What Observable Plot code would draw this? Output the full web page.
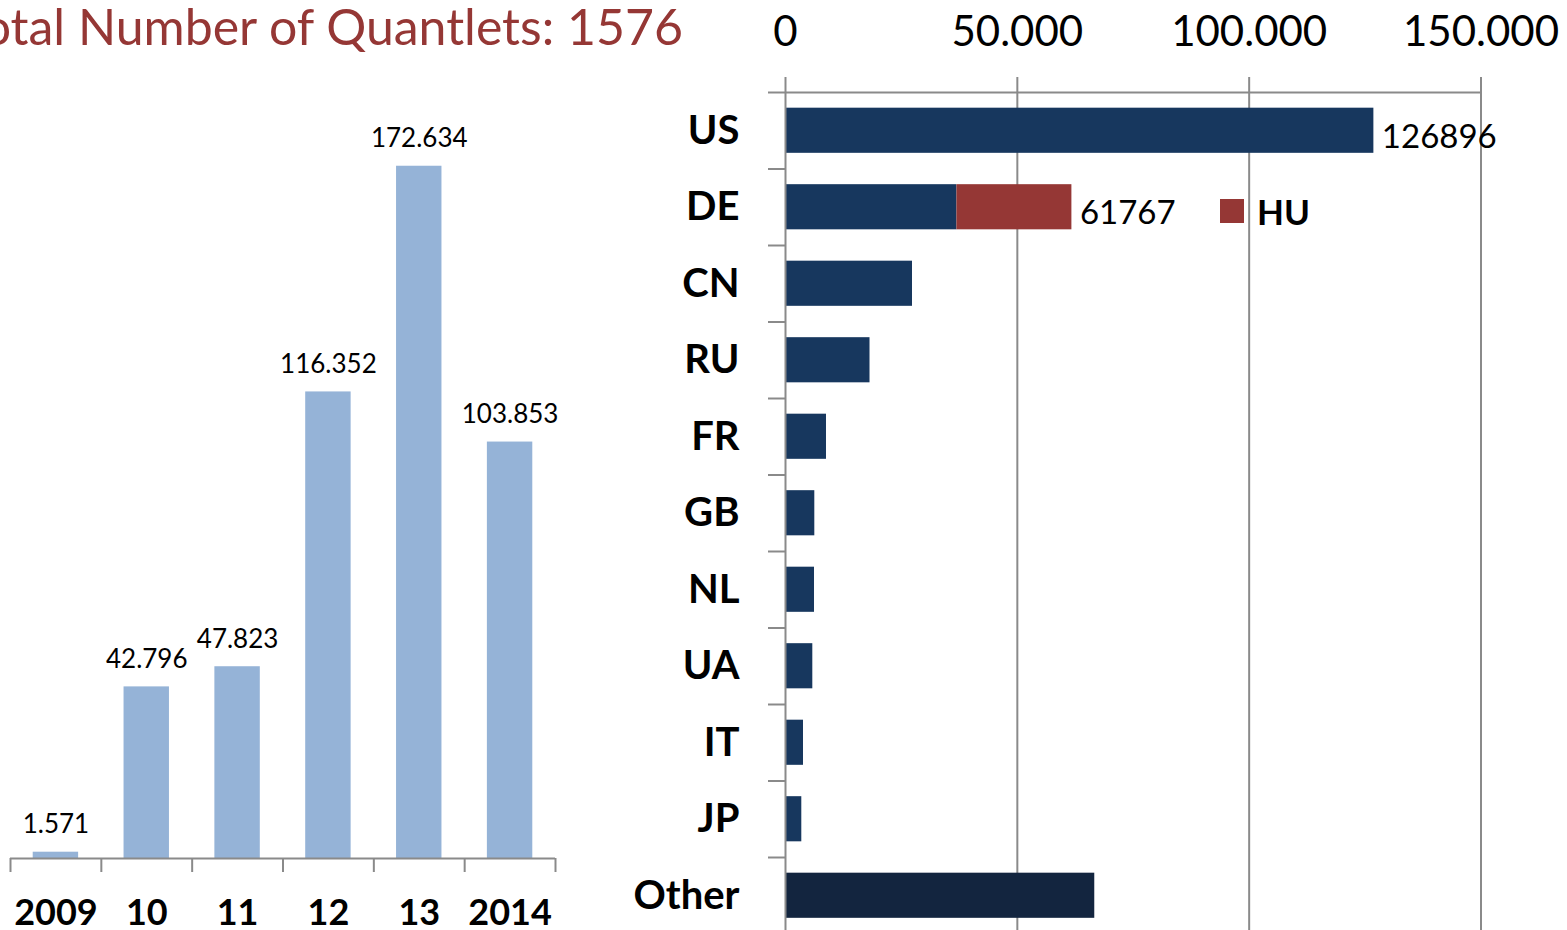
<!DOCTYPE html>
<html>
<head>
<meta charset="utf-8">
<script src="https://cdn.jsdelivr.net/npm/d3@7"></script>
<script src="https://cdn.jsdelivr.net/npm/@observablehq/plot@0.6"></script>
<style>
  html, body { margin: 0; padding: 0; background: #fff; }
  body { width: 1567px; height: 930px; overflow: hidden; position: relative; font-family: Lato, sans-serif; }
  #title { position: absolute; right: 884px; top: 1px; font-size: 50px; line-height: 50px; color: #953735; white-space: nowrap; font-family: Lato, sans-serif; }
  #left { position: absolute; left: 0; top: 0; }
  #right { position: absolute; left: 600px; top: 0; }
  #legend { position: absolute; left: 1220px; top: 199px; height: 24px; display: flex; align-items: center; gap: 13px; }
  #legend .sw { width: 24px; height: 24px; background: #953735; }
  #legend .lb { font-size: 35px; font-weight: bold; color: #000; line-height: 24px; }
  svg { overflow: visible; }
</style>
</head>
<body>
<div id="title">Total Number of Quantlets: 1576</div>
<div id="left"></div>
<div id="right"></div>
<div id="legend"><div class="sw"></div><div class="lb">HU</div></div>
<script>
// ---- data ----
const years = ["2009", "10", "11", "12", "13", "2014"];
const yearCounts = [1571, 42796, 47823, 116352, 172634, 103853];

const countries = ["US", "DE", "CN", "RU", "FR", "GB", "NL", "UA", "IT", "JP", "Other"];
const countryCounts = [126896, 36970, 27390, 18225, 8840, 6320, 6255, 5890, 3880, 3515, 66700];
const huCount = 24797; // stacked on DE
const xTicks = [0, 50000, 100000, 150000];

// ---- helpers ----
const dotFmt = d3.formatLocale({decimal: ",", thousands: ".", grouping: [3], currency: ["", ""]}).format(",");
const gray = "#8a8a8a";

// ---- left chart: quantlets per year ----
const yearRows = years.map((y, i) => ({year: y, i, value: yearCounts[i]}));
const left = Plot.plot({
  width: 600,
  height: 930,
  marginLeft: 10,
  marginRight: 45,
  marginTop: 56,
  marginBottom: 72,
  style: {fontFamily: "Lato, sans-serif", color: "#000", background: "transparent", overflow: "visible"},
  x: {domain: [0, years.length]},
  y: {domain: [0, 200000], axis: null},
  marks: [
    Plot.rectY(yearRows, {x1: d => d.i + 0.25, x2: d => d.i + 0.75, y1: 0, y2: "value", fill: "#95b3d7"}),
    Plot.ruleY([0], {stroke: gray, strokeWidth: 2}),
    Plot.axisX({ticks: d3.range(years.length + 1), tickSize: 14, tickFormat: () => "", stroke: gray, strokeWidth: 2, strokeOpacity: 1, label: null}),
    Plot.axisX({ticks: d3.range(years.length).map(i => i + 0.5), tickSize: 0, tickPadding: 41,
      tickFormat: t => years[Math.round(t - 0.5)], fontSize: 36, fontWeight: "bold", label: null}),
    Plot.text(yearRows, {x: d => d.i + 0.5, y: "value", text: d => dotFmt(d.value), dy: -19,
      lineAnchor: "bottom", fontSize: 26, fill: "#000"})
  ]
});
document.getElementById("left").append(left);

// ---- right chart: quantlets by country ----
const countryRows = countries.map((c, i) => ({country: c, i, value: countryCounts[i]}));
const deIndex = countries.indexOf("DE");
const huRows = [{country: "HU", i: deIndex, start: countryCounts[deIndex], value: huCount}];
const labelRows = [
  {i: 0, total: countryCounts[0]},
  {i: deIndex, total: countryCounts[deIndex] + huCount}
];

const right = Plot.plot({
  width: 967,
  height: 934,
  marginLeft: 185,
  marginRight: 86.5,
  marginTop: 92,
  marginBottom: 0.5,
  style: {fontFamily: "Lato, sans-serif", color: "#000", background: "transparent", overflow: "visible"},
  x: {domain: [0, 150000]},
  y: {domain: [0, countries.length], reverse: true},
  marks: [
    Plot.gridX({ticks: xTicks.slice(1), stroke: gray, strokeOpacity: 1, strokeWidth: 2}),
    Plot.rect(countryRows, {x1: 0, x2: "value", y1: d => d.i + 0.205, y2: d => d.i + 0.795,
      fill: d => d.country === "Other" ? "#13253f" : "#17375e"}),
    Plot.rect(huRows, {x1: "start", x2: d => d.start + d.value, y1: d => d.i + 0.205, y2: d => d.i + 0.795, fill: "#953735"}),
    Plot.ruleX([0], {stroke: gray, strokeWidth: 2}),
    Plot.ruleY([0], {stroke: gray, strokeWidth: 2}),
    Plot.axisX({anchor: "top", ticks: xTicks, tickSize: 16, tickPadding: 31, tickFormat: dotFmt,
      fontSize: 42, stroke: gray, strokeWidth: 2, strokeOpacity: 1, label: null}),
    Plot.axisY({anchor: "left", ticks: d3.range(countries.length + 1), tickSize: 17, tickFormat: () => "",
      stroke: gray, strokeWidth: 2, strokeOpacity: 1, label: null}),
    Plot.axisY({anchor: "left", ticks: d3.range(countries.length).map(i => i + 0.5), tickSize: 0, tickPadding: 46,
      tickFormat: t => countries[Math.round(t - 0.5)], fontSize: 40, fontWeight: "bold", label: null}),
    Plot.text(labelRows, {x: "total", y: d => d.i + 0.5, text: d => String(d.total), dx: 8, dy: 17,
      textAnchor: "start", lineAnchor: "bottom", fontSize: 33, fill: "#000"})
  ]
});
document.getElementById("right").append(right);
</script>
</body>
</html>
